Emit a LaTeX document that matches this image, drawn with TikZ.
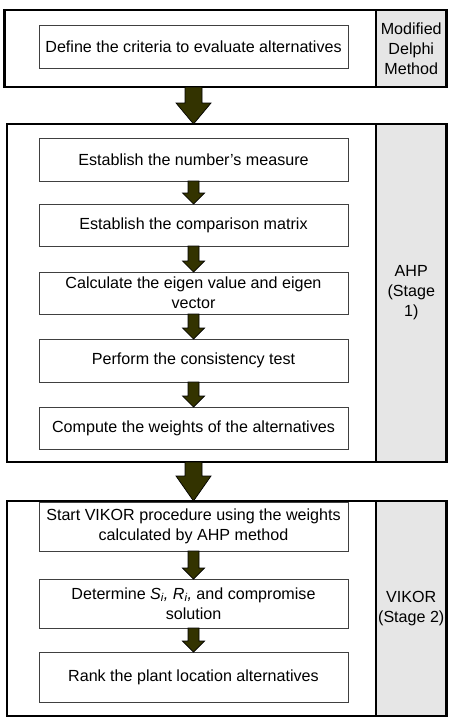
\documentclass[tikz,border=0pt]{standalone}
\usepackage{fontspec}
\setmainfont{Liberation Sans}
\usetikzlibrary{calc}
\definecolor{arrowcol}{HTML}{333300}
\definecolor{sidegrey}{HTML}{E6E6E6}
\newcommand\blockarr[5]{%
  \path[arrowstyle] let \p1=(#1), \p2=(#2) in
    (\x1-#3/2,\y1) -- (\x1-#3/2,\y2+#5) -- (\x1-#4/2,\y2+#5) -- (\x1,\y2)
    -- (\x1+#4/2,\y2+#5) -- (\x1+#3/2,\y2+#5) -- (\x1+#3/2,\y1) -- cycle;}
\begin{document}
\begin{tikzpicture}[x=1pt,y=-1pt,
  every node/.style={font=\fontsize{16.1}{20}\selectfont, inner sep=0pt, outer sep=0pt},
  outerbox/.style={draw=black, line width=2.5pt, fill=white},
  sidebox/.style={draw=black, line width=2.5pt, fill=sidegrey, align=center},
  stepbox/.style={draw=black!75, line width=0.9pt, fill=white, minimum width=309pt, align=center},
  arrowstyle/.style={fill=arrowcol, draw=black, line width=0.7pt}]
\useasboundingbox (0,0) rectangle (454,718);
% stage containers
\node[outerbox, minimum width=442pt, minimum height=77pt] (box1) at (225.5,48.5) {};
\node[sidebox, minimum width=70.5pt, minimum height=77pt] (side1) at (411.25,48.5) {Modified\\Delphi\\Method};
\node[outerbox, minimum width=439.5pt, minimum height=338pt] (box2) at (226.75,293) {};
\node[sidebox, minimum width=70.5pt, minimum height=338pt] (side2) at (411.25,293) {AHP\\(Stage\\1)};
\node[outerbox, minimum width=439.5pt, minimum height=215pt] (box3) at (226.75,608.5) {};
\node[sidebox, minimum width=70.5pt, minimum height=215pt] (side3) at (411.25,608.5) {VIKOR\\(Stage 2)};
% steps
\node[stepbox, minimum height=43pt] (def) at (193.5,46.5) {Define the criteria to evaluate alternatives};
\node[stepbox, minimum height=43pt] (sa) at (193.5,159.5) {Establish the number’s measure};
\node[stepbox, minimum height=42pt] (sb) at (193.5,225) {Establish the comparison matrix};
\node[stepbox, minimum height=42pt] (sc) at (193.5,293) {Calculate the eigen value and eigen\\vector};
\node[stepbox, minimum height=43pt] (sd) at (193.5,360.5) {Perform the consistency test};
\node[stepbox, minimum height=42pt] (se) at (193.5,428) {Compute the weights of the alternatives};
\node[stepbox, minimum height=49pt] (sf) at (193.5,526.5) {Start VIKOR procedure using the weights\\calculated by AHP method};
\node[stepbox, minimum height=49pt] (sg) at (193.5,603.5) {Determine {\itshape S\textsubscript{i}, R\textsubscript{i},} and compromise\\solution};
\node[stepbox, minimum height=50pt] (sh) at (193.5,677) {Rank the plant location alternatives};
% big arrows between stages
\blockarr{def.south |- box1.south}{sa.north |- box2.north}{17pt}{35pt}{21pt}
\blockarr{se.south |- box2.south}{sf.north |- box3.north}{17pt}{35pt}{25pt}
% small arrows
\blockarr{sa.south}{sb.north}{11pt}{22pt}{11pt}
\blockarr{sb.south}{sc.north}{11pt}{22pt}{11pt}
\blockarr{sc.south}{sd.north}{11pt}{22pt}{11pt}
\blockarr{sd.south}{se.north}{11pt}{22pt}{11pt}
\blockarr{sf.south}{sg.north}{11pt}{22pt}{11pt}
\blockarr{sg.south}{sh.north}{11pt}{22pt}{11pt}
\end{tikzpicture}
\end{document}
